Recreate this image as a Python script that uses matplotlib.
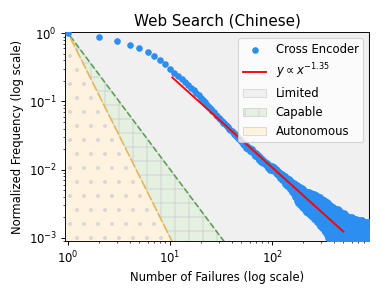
import numpy as np
import matplotlib
matplotlib.use("Agg")
import matplotlib.pyplot as plt

# failures vs normalized frequency (Cross Encoder)
head_x = [1, 2, 3, 4, 5, 6, 7, 8, 9, 10]
head_y = [1.0, 0.88, 0.77, 0.68, 0.60, 0.53, 0.47, 0.40, 0.35, 0.30]

mid_x = list(range(11, 100))
mid_y = [0.265, 0.240, 0.215, 0.195, 0.176, 0.160, 0.146, 0.135, 0.124, 0.113,
         0.104, 0.097, 0.090, 0.083, 0.078, 0.073, 0.069, 0.064, 0.061, 0.058,
         0.055, 0.052, 0.049, 0.048, 0.045, 0.043, 0.042, 0.039, 0.038, 0.037,
         0.036, 0.033, 0.033, 0.031, 0.031, 0.029, 0.028, 0.028, 0.026, 0.026,
         0.025, 0.024, 0.023, 0.024, 0.022, 0.021, 0.022, 0.020, 0.020, 0.019,
         0.021, 0.019, 0.020, 0.018, 0.019, 0.017, 0.018, 0.016, 0.017, 0.0175,
         0.016, 0.015, 0.0165, 0.015, 0.014, 0.0155, 0.014, 0.013, 0.0145, 0.014,
         0.013, 0.0125, 0.0135, 0.013, 0.012, 0.0128, 0.0115, 0.012, 0.0125, 0.011,
         0.0118, 0.0105, 0.011, 0.0115, 0.0102, 0.0098, 0.0108, 0.0112, 0.0097]

# tail: several points share each failure count bin
tail_x = [100, 104, 108, 112, 116, 120, 125, 130, 135, 140, 145, 150, 156, 162,
          168, 174, 180, 187, 194, 201, 208, 216, 224, 232, 240, 249, 258, 267,
          277, 287, 297, 308, 319, 330, 342, 354, 367, 380, 394, 408, 423, 438,
          454, 470, 487, 504, 522, 541, 560, 580, 601, 622, 644, 667, 691, 716,
          741, 768, 795, 823, 852, 882]
tail_hi = [.0113, .0108, .0102, .0098, .0093, .0090, .0085, .0081, .0079, .0076,
           .0072, .0069, .0066, .0064, .0061, .0059, .0057, .0055, .0053, .0051,
           .0049, .0047, .0047, .0046, .0045, .0044, .0043, .0042, .0041, .0040,
           .0039, .0037, .0036, .0034, .0033, .0032, .0030, .0029, .0028, .0027,
           .0026, .0026, .0025, .0024, .0023, .0023, .0022, .0021, .0020, .0020,
           .0020, .0019, .0019, .0019, .0018, .0018, .0018, .0018, .0017, .0017,
           .0017, .0017]
tail_hm = [.0109, .0104, .0099, .0094, .0090, .0087, .0082, .0078, .0075, .0072,
           .0069, .0065, .0062, .0060, .0057, .0054, .0053, .0050, .0048, .0046,
           .0044, .0042, .0041, .0040, .0038, .0037, .0036, .0034, .0033, .0032,
           .0031, .0029, .0028, .0027, .0026, .0025, .0023, .0022, .0022, .0021,
           .0020, .0019, .0019, .0018, .0017, .0017, .0016, .0015, .0015, .0014,
           .0014, .0015, .0014, .0015, .0014, .0014, .0014, .0014, .0013, .0014,
           .0013, .0013]
tail_mid = [.0106, .0100, .0097, .0090, .0088, .0083, .0080, .0074, .0071, .0068,
            .0065, .0062, .0058, .0056, .0053, .0050, .0049, .0046, .0044, .0041,
            .0040, .0038, .0036, .0034, .0033, .0031, .0030, .0028, .0027, .0026,
            .0025, .0023, .0022, .0021, .0020, .0019, .0018, .0017, .0017, .0016,
            .0015, .0014, .0014, .0013, .0013, .0012, .0012, .0011, .0011, .0010,
            .0010, .0012, .0011, .0012, .0011, .0012, .0011, .0012, .0011, .0012,
            .0011, .0012]
tail_ml = [.0103, .0097, .0093, .0087, .0084, .0079, .0075, .0070, .0066, .0063,
           .0060, .0056, .0052, .0049, .0045, .0042, .0040, .0037, .0035, .0033,
           .0032, .0030, .0029, .0027, .0026, .0025, .0024, .0022, .0021, .0020,
           .0019, .0018, .0017, .0016, .0015, .0014, .0013, .0012, .0012, .0011,
           .0011, .0011, .0010, .0010, .00098, .00096, .00098, .00096, .00098, .00096,
           .00098, .00098, .00096, .00098, .00096, .00098, .00096, .00098, .00096, .00098,
           .00096, .00098]
tail_lo = [.0100, .0094, .0089, .0085, .0080, .0076, .0071, .0067, .0062, .0058,
           .0055, .0051, .0047, .0043, .0039, .0035, .0032, .0030, .0028, .0027,
           .0025, .0024, .0023, .0022, .0021, .0020, .0019, .0018, .0017, .0016,
           .0015, .0014, .0013, .0012, .0011, .0010, .00092, .00086, .00084, .00086,
           .00084, .00086, .00084, .00086, .00084, .00086, .00084, .00086, .00084, .00086,
           .00084, .00086, .00084, .00086, .00084, .00086, .00084, .00086, .00084, .00086,
           .00084, .00086]

# extra points where the tail band gets wide
wide_x = [240, 258, 277, 297, 319, 342, 367, 394, 423, 454, 487, 522, 560, 601,
          644, 691, 741, 795, 852]
wide_a = [.0041, .0039, .0037, .0035, .0032, .0029, .0026, .0025, .0023, .0022,
          .0020, .0019, .0017, .0016, .0016, .0015, .0015, .0014, .0014]
wide_b = [.0035, .0033, .0030, .0028, .0025, .0023, .0020, .0019, .0017, .0016,
          .0015, .0014, .0013, .0012, .0012, .0012, .0012, .0012, .0012]
wide_c = [.0029, .0027, .0024, .0022, .0019, .0017, .0015, .0014, .0013, .0012,
          .0011, .0011, .0010, .00105, .00105, .00105, .00105, .00105, .00105]
wide_d = [.0023, .0021, .0019, .0017, .0015, .0013, .0011, .0010, .00096, .00092,
          .00090, .00090, .00090, .00090, .00090, .00090, .00090, .00090, .00090]

fit_exp = -1.35
fit_amp = 5.37
fit_range = [10.5, 500]

# capability regions bounded by y = x^-2 and y = x^-3
capable_exp = -2.0
autonomous_exp = -3.0

x_lim = (0.93, 890)
y_lim = (8.77e-4, 1.035)

fig = plt.figure(figsize=(382 / 84, 297 / 84), dpi=84)
ax = fig.add_axes([0.170, 0.187, 0.796, 0.704])
ax.set_xscale('log')
ax.set_yscale('log')

xs = np.logspace(np.log10(x_lim[0]), np.log10(x_lim[1]), 300)
y_cap = xs ** capable_exp
y_aut = xs ** autonomous_exp

plt.rcParams['hatch.linewidth'] = 1.0
lim = ax.fill_between(xs, y_cap, 10, color='#f0f0f0', edgecolor='#d8d8d8',
                      lw=0.8, label='Limited')
cap = ax.fill_between(xs, y_aut, y_cap, facecolor='#e4f1e1', edgecolor='#d6d6d6',
                      hatch='+', lw=0.8, label='Capable')
aut = ax.fill_between(xs, 1e-5, y_aut, facecolor='#fff3e0', edgecolor='#d8d8d8',
                      hatch='.', lw=0.8, label='Autonomous')
ax.plot(xs, y_cap, '--', color='#5f9f55', lw=1.4)
ax.plot(xs, y_aut, '--', color='#eab553', lw=1.4, dashes=(6, 1.5))

all_x = head_x + mid_x + tail_x * 5 + wide_x * 4
all_y = (head_y + mid_y + tail_hi + tail_hm + tail_mid + tail_ml + tail_lo
         + wide_a + wide_b + wide_c + wide_d)
sc = ax.scatter(all_x, all_y, s=32, color='#2b8ef0', label='Cross Encoder',
                zorder=3, linewidths=0)

fx = np.logspace(np.log10(fit_range[0]), np.log10(fit_range[1]), 50)
fl, = ax.plot(fx, fit_amp * fx ** fit_exp, color='red', lw=1.6, zorder=4,
              label=r'$y \propto x^{-1.35}$')

ax.set_xlim(*x_lim)
ax.set_ylim(*y_lim)
ax.set_title('Web Search (Chinese)', fontsize=13)
ax.set_xlabel('Number of Failures (log scale)', fontsize=10)
ax.set_ylabel('Normalized Frequency (log scale)', fontsize=10)
ax.legend(handles=[sc, fl, lim, cap, aut], loc='upper right', fontsize=10)

fig.savefig('out.png', dpi=84)
plt.close(fig)
